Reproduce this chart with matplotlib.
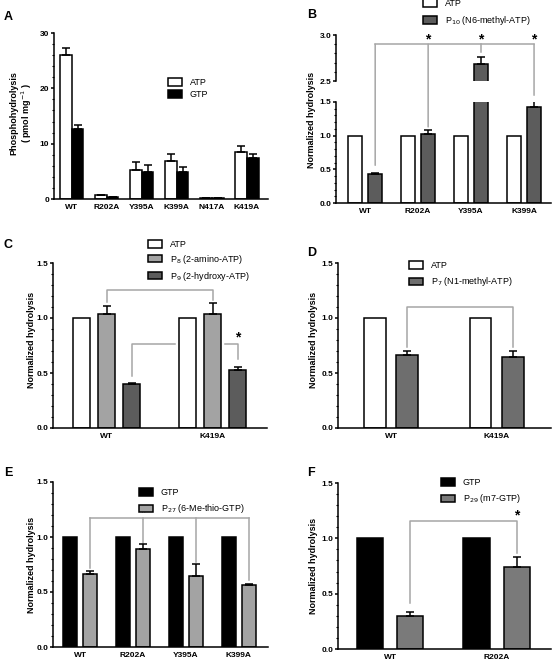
import numpy as np
import matplotlib
matplotlib.use("Agg")
import matplotlib.pyplot as plt
from matplotlib.patches import ConnectionPatch
from matplotlib.ticker import MultipleLocator

plt.rcParams['font.family'] = ['Liberation Sans', 'DejaVu Sans']

W, H = 552, 662

# ---- data ----
a_cats = ["WT", "R202A", "Y395A", "K399A", "N417A", "K419A"]
a_atp = [26.0, 0.7, 5.2, 6.9, 0.2, 8.5]
a_atp_err = [1.2, 0.0, 1.4, 1.3, 0.0, 1.0]
a_gtp = [12.7, 0.4, 4.9, 4.8, 0.2, 7.4]
a_gtp_err = [0.6, 0.0, 1.3, 0.9, 0.0, 0.8]

b_cats = ["WT", "R202A", "Y395A", "K399A"]
b_atp = [1.0, 1.0, 1.0, 1.0]
b_p10 = [0.43, 1.02, 2.68, 1.42]
b_p10_err = [0.02, 0.06, 0.08, 0.10]

c_cats = ["WT", "K419A"]
c_atp = [1.0, 1.0]
c_p8 = [1.035, 1.04]
c_p8_err = [0.07, 0.10]
c_p9 = [0.40, 0.525]
c_p9_err = [0.008, 0.03]

d_cats = ["WT", "K419A"]
d_atp = [1.0, 1.0]
d_p7 = [0.66, 0.65]
d_p7_err = [0.04, 0.05]

e_cats = ["WT", "R202A", "Y395A", "K399A"]
e_gtp = [1.0, 1.0, 1.0, 1.0]
e_p27 = [0.665, 0.895, 0.645, 0.565]
e_p27_err = [0.025, 0.045, 0.11, 0.01]

f_cats = ["WT", "R202A"]
f_gtp = [1.0, 1.0]
f_p29 = [0.30, 0.745]
f_p29_err = [0.03, 0.09]

GRAY_LINE = "#a6a6a6"
LW = 1.1


def px_axes(fig, l, t, r, b):
    return fig.add_axes([l / W, 1 - b / H, (r - l) / W, (b - t) / H])


def style(ax, ymax, major, minor, fmt="{:.1f}"):
    for s in ["top", "right"]:
        ax.spines[s].set_visible(False)
    for s in ["left", "bottom"]:
        ax.spines[s].set_linewidth(LW)
    ax.set_ylim(0, ymax)
    ax.yaxis.set_minor_locator(MultipleLocator(minor))
    ticks = np.arange(0, ymax + 1e-9, major)
    ax.set_yticks(ticks)
    ax.set_yticklabels([fmt.format(t) for t in ticks], fontsize=6, fontweight="bold")
    ax.tick_params(axis="y", which="major", length=2.5, width=LW, pad=1)
    ax.tick_params(axis="y", which="minor", length=1.5, width=0.8)
    ax.tick_params(axis="x", length=0, pad=3.5)


def xlabels(ax, cats):
    ax.set_xticks(np.arange(len(cats)))
    ax.set_xticklabels(cats, fontsize=6, fontweight="bold")


def bars(ax, x, vals, width, color, err=None, label=None):
    yerr = None
    if err is not None:
        yerr = [np.zeros(len(err)), err]
    return ax.bar(x, vals, width, color=color, edgecolor="black", linewidth=LW,
                  yerr=yerr, error_kw=dict(ecolor="black", elinewidth=LW, capsize=3,
                                           capthick=LW), label=label, zorder=2)


def bracket(ax, pts):
    xs, ys = zip(*pts)
    ax.plot(xs, ys, color=GRAY_LINE, lw=LW, clip_on=False, zorder=1)


def star(ax, x, y):
    ax.text(x, y, "*", ha="center", va="center", fontsize=10, fontweight="bold")


def legend(fig, ax, x, y, spacing=0.6):
    ax.legend(loc="upper left", bbox_to_anchor=(x / W, 1 - y / H),
              bbox_transform=fig.transFigure, frameon=False, fontsize=6.5,
              borderpad=0, borderaxespad=0, handlelength=1.6, handleheight=0.9,
              handletextpad=0.8, labelspacing=spacing)


def ylab(fig, x, y, text):
    fig.text(x / W, 1 - y / H, text, rotation=90, ha="center", va="center",
             fontsize=6.5, fontweight="bold")


def panel(fig, x, y, text):
    fig.text(x / W, 1 - y / H, text, ha="left", va="center", fontsize=9, fontweight="bold")


fig = plt.figure(figsize=(W / 100, H / 100), dpi=100)

# ---- A ----
ax = px_axes(fig, 54, 33, 268, 199)
x = np.arange(len(a_cats))
bars(ax, x - 0.17, a_atp, 0.32, "white", a_atp_err, "ATP")
bars(ax, x + 0.17, a_gtp, 0.32, "black", a_gtp_err, "GTP")
style(ax, 30, 10, 2, "{:.0f}")
xlabels(ax, a_cats)
ax.set_xlim(-0.51, 5.6)
legend(fig, ax, 168, 78, spacing=0.35)
fig.text(22 / W, 1 - 113 / H, "Phosphohydrolysis\n( pmol mg$^{-1}$ )", rotation=90,
         ha="center", va="center", fontsize=6.5, fontweight="bold", linespacing=1.15)
panel(fig, 4, 17, "A")

# ---- B (broken axis) ----
axb = px_axes(fig, 336, 102, 551, 203)
axt = px_axes(fig, 336, 35, 551, 81)
x = np.arange(len(b_cats))
for a in (axb, axt):
    bars(a, x - 0.19, b_atp, 0.264, "white", None, "ATP")
    bars(a, x + 0.19, b_p10, 0.264, "#5c5c5c", b_p10_err, "P$_{10}$ (N6-methyl-ATP)")
    a.set_xlim(-0.55, 3.51)
style(axb, 1.5, 0.5, 0.1)
xlabels(axb, b_cats)
style(axt, 3.0, 0.5, 0.1)
axt.set_ylim(2.5, 3.0)
axt.set_yticks([2.5, 3.0])
axt.set_yticklabels(["2.5", "3.0"], fontsize=6, fontweight="bold")
axt.spines["bottom"].set_visible(False)
axt.set_xticks([])
legend(fig, axt, 423, -1, spacing=0.7)
ylab(fig, 312, 120, "Normalized hydrolysis")
panel(fig, 307, 15, "B")
xs = x + 0.19
axt.plot([xs[0], xs[3]], [2.90, 2.90], color=GRAY_LINE, lw=LW, clip_on=False)
bracket(axt, [(xs[2], 2.90), (xs[2], 2.82)])
for xi, yb in [(xs[0], 0.56), (xs[1], 1.13), (xs[3], 1.6)]:
    con = ConnectionPatch(xyA=(xi, 2.90), coordsA=axt.transData,
                          xyB=(xi, yb), coordsB=axb.transData,
                          color=GRAY_LINE, lw=LW)
    fig.add_artist(con)
for xi in xs[1:]:
    star(axt, xi, 2.955)

# ---- C ----
ax = px_axes(fig, 53, 263, 267, 428)
x = np.arange(len(c_cats))
bars(ax, x - 0.236, c_atp, 0.16, "white", None, "ATP")
bars(ax, x, c_p8, 0.16, "#a3a3a3", c_p8_err, "P$_{8}$ (2-amino-ATP)")
bars(ax, x + 0.236, c_p9, 0.16, "#5c5c5c", c_p9_err, "P$_{9}$ (2-hydroxy-ATP)")
style(ax, 1.5, 0.5, 0.1)
xlabels(ax, c_cats)
ax.set_xlim(-0.505, 1.514)
legend(fig, ax, 148, 240, spacing=0.42)
ylab(fig, 31, 340, "Normalized hydrolysis")
panel(fig, 4, 245, "C")
bracket(ax, [(0, 1.15), (0, 1.255), (1, 1.255), (1, 1.16)])
bracket(ax, [(0.236, 0.47), (0.236, 0.765), (0.646, 0.765)])
bracket(ax, [(1.118, 0.765), (1.236, 0.765), (1.236, 0.63)])
star(ax, 1.236, 0.82)

# ---- D ----
ax = px_axes(fig, 338, 263, 551, 428)
x = np.arange(len(d_cats))
bars(ax, x - 0.153, d_atp, 0.203, "white", None, "ATP")
bars(ax, x + 0.153, d_p7, 0.203, "#6e6e6e", d_p7_err, "P$_{7}$ (N1-methyl-ATP)")
style(ax, 1.5, 0.5, 0.1)
xlabels(ax, d_cats)
ax.set_xlim(-0.5, 1.51)
legend(fig, ax, 409, 261)
ylab(fig, 313, 340, "Normalized hydrolysis")
panel(fig, 307, 253, "D")
bracket(ax, [(0.153, 0.74), (0.153, 1.1), (1.153, 1.1), (1.153, 0.74)])

# ---- E ----
ax = px_axes(fig, 53, 482, 268, 647)
x = np.arange(len(e_cats))
bars(ax, x - 0.19, e_gtp, 0.264, "black", None, "GTP")
bars(ax, x + 0.19, e_p27, 0.264, "#a3a3a3", e_p27_err, "P$_{27}$ (6-Me-thio-GTP)")
style(ax, 1.5, 0.5, 0.1)
xlabels(ax, e_cats)
ax.set_xlim(-0.51, 3.55)
legend(fig, ax, 139, 488)
ylab(fig, 31, 565, "Normalized hydrolysis")
panel(fig, 4, 473, "E")
xs = x + 0.19
ax.plot([xs[0], xs[3]], [1.17, 1.17], color=GRAY_LINE, lw=LW, clip_on=False, zorder=1)
for xi, yb in zip(xs, [0.72, 0.95, 0.77, 0.61]):
    bracket(ax, [(xi, 1.17), (xi, yb)])
star(ax, xs[1], 1.225)

# ---- F ----
ax = px_axes(fig, 338, 483, 551, 649)
x = np.arange(len(f_cats))
bars(ax, x - 0.187, f_gtp, 0.252, "black", None, "GTP")
bars(ax, x + 0.187, f_p29, 0.252, "#7a7a7a", f_p29_err, "P$_{29}$ (m7-GTP)")
style(ax, 1.5, 0.5, 0.1)
xlabels(ax, f_cats)
ax.set_xlim(-0.486, 1.505)
legend(fig, ax, 441, 478)
ylab(fig, 313, 566, "Normalized hydrolysis")
panel(fig, 307, 473, "F")
bracket(ax, [(0.187, 0.42), (0.187, 1.155), (1.187, 1.155), (1.187, 0.87)])
star(ax, 1.187, 1.21)

fig.savefig("out.png", dpi=100, facecolor="white")
